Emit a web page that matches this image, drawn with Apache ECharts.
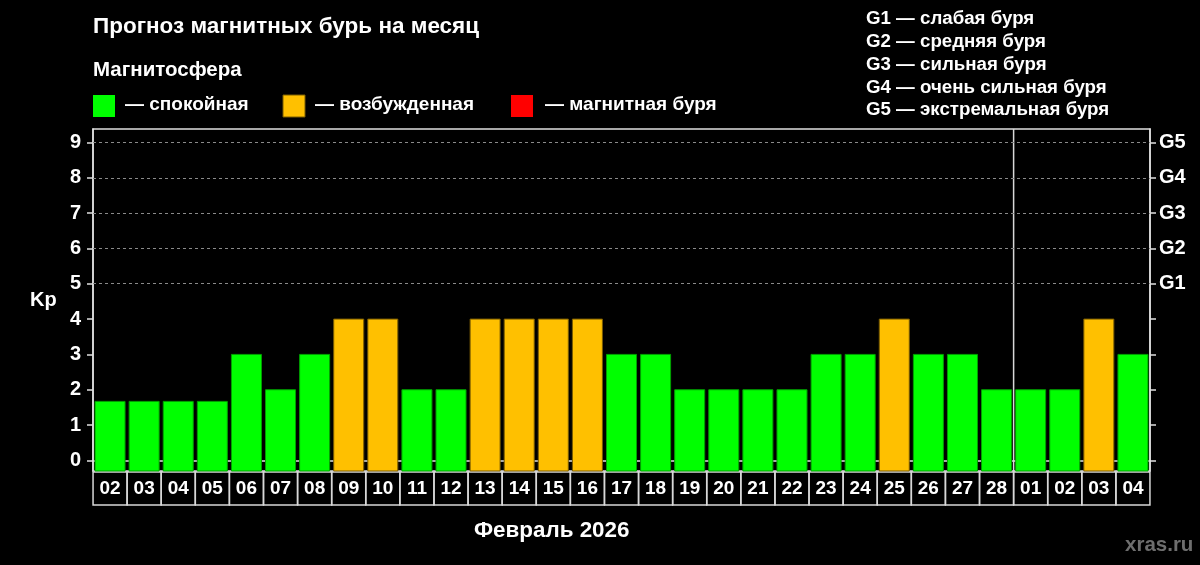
<!DOCTYPE html>
<html>
<head>
<meta charset="utf-8">
<script src="https://cdn.jsdelivr.net/npm/echarts@6/dist/echarts.min.js"></script>
<style>
  html, body { margin: 0; padding: 0; background: #000; }
  #chart { width: 1200px; height: 565px; }
</style>
</head>
<body>
<div id="chart"></div>
<script>
// даты прогноза (февраль + начало марта)
const days = ['02','03','04','05','06','07','08','09','10','11','12','13','14','15','16',
  '17','18','19','20','21','22','23','24','25','26','27','28','01','02','03','04'];
// индекс Kp по дням
const kp = [1.67,1.67,1.67,1.67,3,2,3,4,4,2,2,4,4,4,4,3,3,2,2,2,2,3,3,4,3,3,2,2,2,4,3];
const kpTicks = [0,1,2,3,4,5,6,7,8,9];
const stormLevels = [5,6,7,8,9];
const stormNames = ['G1','G2','G3','G4','G5'];
const stormText = ['слабая буря','средняя буря','сильная буря','очень сильная буря','экстремальная буря'];
const monthBreak = 26; // 28 февраля - последний день месяца

const Y_MIN = -0.3, Y_MAX = 9.38;
const FONT = 'Liberation Sans, Arial, sans-serif';

function barColor(v) {
  if (v >= 5) return ['#ff0000', '#900000'];
  if (v >= 4) return ['#ffc000', '#7a5c00'];
  return ['#00ff00', '#00a000'];
}

const chart = echarts.init(document.getElementById('chart'));

const graphics = [
  { type: 'text', left: 93, top: 15, style: { text: 'Прогноз магнитных бурь на месяц', fill: '#fff', font: 'bold 22.5px ' + FONT } },
  { type: 'text', left: 93, top: 60, style: { text: 'Магнитосфера', fill: '#fff', font: 'bold 20.5px ' + FONT } },
  { type: 'rect', shape: { x: 93, y: 95, width: 22, height: 22 }, style: { fill: '#00ff00' } },
  { type: 'text', left: 125, top: 95, style: { text: '— спокойная', fill: '#fff', font: 'bold 19px ' + FONT } },
  { type: 'rect', shape: { x: 283, y: 95, width: 22, height: 22 }, style: { fill: '#ffc000', stroke: '#7a5c00', lineWidth: 1 } },
  { type: 'text', left: 315, top: 95, style: { text: '— возбужденная', fill: '#fff', font: 'bold 19px ' + FONT } },
  { type: 'rect', shape: { x: 511, y: 95, width: 22, height: 22 }, style: { fill: '#ff0000' } },
  { type: 'text', left: 545, top: 95, style: { text: '— магнитная буря', fill: '#fff', font: 'bold 19px ' + FONT } },
  { type: 'text', left: 30, top: 290, style: { text: 'Kp', fill: '#fff', font: 'bold 20px ' + FONT } },
  { type: 'text', left: 474, top: 520, style: { text: 'Февраль 2026', fill: '#fff', font: 'bold 22.4px ' + FONT } },
  { type: 'text', left: 1125, top: 535, style: { text: 'xras.ru', fill: '#6e6e6e', font: 'bold 20.5px ' + FONT } }
];
const stormY = [20, 43.3, 65.7, 89, 111];
stormNames.forEach((g, i) => {
  graphics.push({ type: 'text', left: 866, top: stormY[i] - 10.5,
    style: { text: g + ' — ' + stormText[i], fill: '#fff', font: 'bold 18.7px ' + FONT } });
});

chart.setOption({
  backgroundColor: '#000',
  animation: false,
  graphic: graphics,
  grid: { left: 93, right: 50, top: 129, bottom: 94, show: true, borderColor: '#e0e0e0', borderWidth: 1.5 },
  xAxis: {
    type: 'category',
    data: days,
    axisLine: { show: true, lineStyle: { color: '#e0e0e0', width: 1.5 } },
    axisTick: { show: false },
    axisLabel: {
      interval: 0, margin: 1, color: '#fff', fontFamily: FONT, fontWeight: 'bold', fontSize: 19,
      width: 34, height: 33, lineHeight: 33, align: 'center',
      borderColor: '#d8d8d8', borderWidth: 1.5
    }
  },
  yAxis: [
    {
      type: 'value', min: Y_MIN, max: Y_MAX, position: 'left',
      axisLine: { show: true, lineStyle: { color: '#e0e0e0', width: 1.5 } },
      axisTick: { show: true, length: 6, customValues: kpTicks, lineStyle: { color: '#e0e0e0', width: 1.5 } },
      axisLabel: { customValues: kpTicks, margin: 12, color: '#fff', fontFamily: FONT, fontWeight: 'bold', fontSize: 20 },
      splitLine: { show: false }
    },
    {
      type: 'value', min: Y_MIN, max: Y_MAX, position: 'right',
      axisLine: { show: true, lineStyle: { color: '#e0e0e0', width: 1.5 } },
      axisTick: { show: true, length: 6, customValues: kpTicks, lineStyle: { color: '#e0e0e0', width: 1.5 } },
      axisLabel: {
        customValues: stormLevels, margin: 9, color: '#fff', fontFamily: FONT, fontWeight: 'bold', fontSize: 20,
        formatter: v => stormNames[stormLevels.indexOf(v)] || ''
      },
      splitLine: { show: false }
    }
  ],
  series: [
    {
      type: 'custom',
      name: 'Kp',
      data: kp.map((v, i) => [i, v]),
      renderItem: (params, api) => {
        const i = api.value(0), v = api.value(1);
        const top = api.coord([i, v]);
        const bottom = api.coord([i, Y_MIN]);
        const w = api.size([1, 0])[0] * 0.88;
        const c = barColor(v);
        return {
          type: 'rect',
          shape: { x: top[0] - w / 2, y: top[1], width: w, height: bottom[1] - top[1] },
          style: { fill: c[0], stroke: c[1], lineWidth: 1 }
        };
      },
      markLine: {
        silent: true, symbol: 'none', label: { show: false },
        lineStyle: { color: '#8a8a8a', type: [3, 3], width: 1 },
        data: stormLevels.map(v => ({ yAxis: v }))
      },
      z: 2
    },
    {
      type: 'custom',
      name: 'break',
      data: [[monthBreak]],
      renderItem: (params, api) => {
        const half = api.size([1, 0])[0] / 2;
        const a = api.coord([api.value(0), Y_MAX]);
        const b = api.coord([api.value(0), Y_MIN]);
        return {
          type: 'line',
          shape: { x1: a[0] + half, y1: a[1], x2: b[0] + half, y2: b[1] },
          style: { stroke: '#d8d8d8', lineWidth: 1.5 }
        };
      },
      z: 3
    }
  ]
});
</script>
</body>
</html>
